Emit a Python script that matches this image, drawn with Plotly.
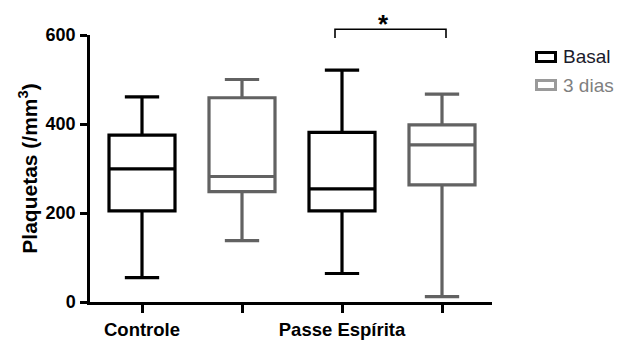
import plotly.graph_objects as go

# ---- data ----
categories = ["Controle", "Passe Espírita"]
series_names = ["Basal", "3 dias"]
basal_pos = [0, 2]
dias_pos = [1, 3]
basal_low = [55, 64]
basal_q1 = [205, 205]
basal_med = [299, 254]
basal_q3 = [375, 381]
basal_high = [461, 521]
dias_low = [138, 12]
dias_q1 = [248, 263]
dias_med = [282, 353]
dias_q3 = [459, 398]
dias_high = [500, 467]
category_pos = [0, 2]
y_ticks = [0, 200, 400, 600]
sig_from, sig_to = 2, 3  # significance bracket between these boxes
sig_label = "*"

FONT = "Liberation Sans, Arial, sans-serif"
BLACK = "#000000"
GRAY = "#626262"

W, H = 622, 343
ML, MR, MT, MB = 90, 130, 35, 41
PW, PH = W - ML - MR, H - MT - MB

xr = [-0.52, 3.5]
yr = [0, 600]

fig = go.Figure()
fig.add_trace(go.Box(
    x=basal_pos, q1=basal_q1, median=basal_med, q3=basal_q3,
    lowerfence=basal_low, upperfence=basal_high,
    name=series_names[0], boxpoints=False, width=0.66, whiskerwidth=0.52,
    line=dict(color=BLACK, width=3.2), fillcolor="rgba(255,255,255,0)",
    showlegend=False,
))
fig.add_trace(go.Box(
    x=dias_pos, q1=dias_q1, median=dias_med, q3=dias_q3,
    lowerfence=dias_low, upperfence=dias_high,
    name=series_names[1], boxpoints=False, width=0.66, whiskerwidth=0.52,
    line=dict(color=GRAY, width=3.2), fillcolor="rgba(255,255,255,0)",
    showlegend=False,
))

# helpers: data -> paper coordinates via the axis ranges
def px(v):
    return (v - xr[0]) / (xr[1] - xr[0])

def py(v):
    return (v - yr[0]) / (yr[1] - yr[0])

# significance bracket
bx0 = px(sig_from - 0.07)
bx1 = px(sig_to + 0.04)
ytop = py(613)
yleg = py(593)
fig.add_shape(type="path",
              path=f"M{bx0},{yleg} L{bx0},{ytop} L{bx1},{ytop} L{bx1},{yleg}",
              xref="paper", yref="paper", line=dict(color=BLACK, width=1.6))
fig.add_annotation(x=(bx0 + bx1) / 2, y=ytop, xref="paper", yref="paper",
                   text="<b>" + sig_label + "</b>", showarrow=False, yanchor="bottom",
                   font=dict(family=FONT, size=26, color=BLACK), yshift=-12)

# custom legend (icon rectangles + labels), placed in pixels of the page
def ppx(p):
    return (p - ML) / PW

def ppy(p):
    return (H - MB - p) / PH

legend_style = [
    (BLACK, "#1b1b2b"),
    ("#9a9a9a", "#7f7f7f"),
]
for i, (name, (icol, tcol)) in enumerate(zip(series_names, legend_style)):
    cy = 57 + 28 * i
    fig.add_shape(type="rect", xref="paper", yref="paper",
                  x0=ppx(536.5), x1=ppx(555.5), y0=ppy(cy - 4.5), y1=ppy(cy + 4.5),
                  line=dict(color=icol, width=3), fillcolor="white")
    fig.add_annotation(x=ppx(561), y=ppy(cy), xref="paper", yref="paper",
                       text=name, showarrow=False, xanchor="left", yanchor="middle",
                       font=dict(family=FONT, size=19, color=tcol))

fig.update_layout(
    width=W, height=H,
    margin=dict(l=ML, r=MR, t=MT, b=MB),
    plot_bgcolor="white", paper_bgcolor="white",
    showlegend=False,
    font=dict(family=FONT),
)
fig.update_xaxes(
    range=xr, tickmode="array", tickvals=category_pos, ticktext=categories,
    showline=True, linecolor=BLACK, linewidth=2.5, ticks="outside", ticklen=8,
    tickwidth=2.5, tickcolor=BLACK, showgrid=False, zeroline=False,
    minor=dict(dtick=1, tick0=0, ticks="outside", ticklen=8, tickwidth=2.5,
               tickcolor=BLACK, showgrid=False),
    tickfont=dict(family=FONT, size=18.5, color=BLACK, weight="bold"),
    ticklabelstandoff=1, automargin=False,
)
fig.update_yaxes(
    range=yr, tickmode="array", tickvals=y_ticks,
    showline=True, linecolor=BLACK, linewidth=2.5, ticks="outside", ticklen=7,
    tickwidth=2.5, tickcolor=BLACK, showgrid=False, zeroline=False,
    tickfont=dict(family=FONT, size=18, color=BLACK, weight="bold"),
    ticklabelstandoff=1, automargin=False,
    title=dict(text="Plaquetas (/mm<sup>3</sup>)",
               font=dict(family=FONT, size=21, color=BLACK, weight="bold"),
               standoff=3),
)

fig.write_html("out.html")
